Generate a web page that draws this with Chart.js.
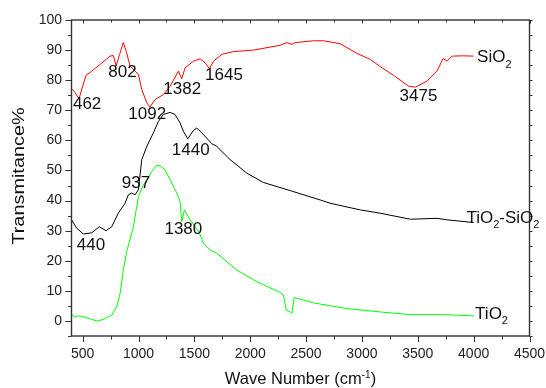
<!DOCTYPE html>
<html><head><meta charset="utf-8">
<script src="https://cdn.jsdelivr.net/npm/chart.js@4/dist/chart.umd.min.js"></script>
<style>html,body{margin:0;padding:0;background:#fff}#wrap{width:546px;height:388px}</style>
</head><body><div id="wrap"><canvas id="c" width="546" height="388"></canvas></div>
<script>
// ---- data ----
const sio2Wn = [400,430,467,500,530,581,655,745,775,799,830,864,894,924,969,999,1029,1074,1103,1148,1223,1283,1357,1387,1417,1491,1551,1596,1635,1671,1746,1850,2029,2268,2328,2373,2403,2567,2656,2806,2896,2955,3075,3164,3284,3418,3478,3583,3672,3726,3762,3807,3900,4000];
const sio2T  = [77.2,76,73.8,78,81.6,83,85.2,88,88.2,84.7,88.5,92.5,89.1,84.7,83,81.9,76.9,72.5,71.1,73.6,75.2,78,83,80.5,84.1,86.3,87.1,85.8,83.8,86.3,88.6,89.5,90,91.6,92.5,91.9,92.5,93.1,93.1,92.1,90.2,88.9,86.9,84.5,81.6,78,77.7,79.7,83,87.2,86.3,88,88.1,88];

const tisiWn = [400,447,506,581,649,709,760,819,879,909,939,969,999,1029,1074,1133,1178,1223,1283,1327,1372,1402,1441,1491,1522,1567,1656,1701,1820,1970,2119,2358,2627,2716,2985,3164,3433,3672,3762,4000];
const tisiT  = [33.6,30.8,28.9,29.3,31.3,30,31.3,35.8,39.1,41.9,42.5,41.9,43.6,53.6,58,62.5,66.3,68.6,69.3,68.6,65.8,63,60.5,63.3,64.1,62.5,58.9,58,53.6,49.1,46,43.3,40.2,39.1,36.9,35.8,33.8,34.1,33.6,32.7];

const tio2Wn = [400,431,461,536,626,685,760,805,835,864,894,954,999,1043,1074,1118,1163,1193,1238,1283,1327,1343,1372,1387,1411,1462,1507,1545,1581,1641,1701,1880,2060,2268,2298,2322,2358,2373,2394,2567,2866,3164,3433,3732,4000];
const tio2T  = [2.2,1.3,1.7,1.1,0,0.5,1.9,4.7,9.1,16.9,23,31.3,41.3,45.2,46.9,49.7,51.7,51.6,50.2,46.9,43.6,42.5,39.7,33,36.9,33.6,31.3,29.3,25.8,23.6,22.5,16.9,13,9.5,8.6,3.6,3,2.5,7.8,6,4.1,3,2.1,2.1,1.7];

const xTickValues = [500,1000,1500,2000,2500,3000,3500,4000,4500];
const yTickValues = [0,10,20,30,40,50,60,70,80,90,100];

// peak annotations: text, wavenumber, transmittance
const peakText = ['462','802','1092','1382','1645','3475','1440','937','440','1380'];
const peakWn   = [413,730,909,1222,1596,3337,1298,850,447,1232];
const peakT    = [71.9,82.5,68.6,77.1,81.6,74.7,56.7,45.6,25.2,30.5];

// series names (with subscript parts) anchored at data coordinates
const seriesNames = [
  {parts:[['SiO',0],['2',1]], wn:4031, t:88},
  {parts:[['TiO',0],['2',1],['-SiO',0],['2',1]], wn:3935, t:34.7},
  {parts:[['TiO',0],['2',1]], wn:4013, t:2.7}
];

const FONT = '"Liberation Sans", Arial, sans-serif';
const toPts = (xs, ys) => xs.map((x, i) => ({x, y: ys[i]}));

function drawRich(ctx, parts, x, y, size) {
  let cx = x;
  for (const [t, sub] of parts) {
    ctx.font = (sub ? Math.round(size * 0.65) : size) + 'px ' + FONT;
    ctx.fillText(t, cx, y + (sub ? size * 0.32 : 0));
    cx += ctx.measureText(t).width;
  }
}

function zeroPad(s) { s.paddingLeft = 0; s.paddingRight = 0; s.paddingTop = 0; s.paddingBottom = 0; }

const framePlugin = {
  id: 'frame',
  afterDraw(chart) {
    const {ctx, chartArea: a, scales: {x, y}} = chart;
    ctx.save();
    ctx.strokeStyle = '#333';
    ctx.lineWidth = 1.4;
    ctx.strokeRect(a.left, a.top, a.right - a.left, a.bottom - a.top);
    ctx.lineWidth = 1;
    ctx.beginPath();
    for (let v = 500; v <= 4500; v += 250) {
      const px = Math.round(x.getPixelForValue(v)) + 0.5;
      const major = v % 500 === 0;
      ctx.moveTo(px, a.bottom); ctx.lineTo(px, a.bottom + (major ? 6 : 3.5));
      ctx.moveTo(px, a.top); ctx.lineTo(px, a.top + (major ? 3.5 : 2.5));
    }
    for (let v = -5; v <= 100; v += 5) {
      const py = Math.round(y.getPixelForValue(v)) + 0.5;
      const major = v % 10 === 0;
      ctx.moveTo(a.left, py); ctx.lineTo(a.left - (major ? 6 : 3.5), py);
      ctx.moveTo(a.right, py); ctx.lineTo(a.right + 3, py);
    }
    ctx.stroke();

    // peak labels
    ctx.fillStyle = '#111';
    ctx.textAlign = 'left';
    ctx.textBaseline = 'middle';
    ctx.font = '17px ' + FONT;
    peakText.forEach((t, i) => {
      ctx.fillText(t, x.getPixelForValue(peakWn[i]), y.getPixelForValue(peakT[i]));
    });
    // series labels
    ctx.textBaseline = 'alphabetic';
    seriesNames.forEach(s => {
      drawRich(ctx, s.parts, x.getPixelForValue(s.wn), y.getPixelForValue(s.t) + 6, 17);
    });

    // x axis title with superscript
    const cxm = (a.left + a.right) / 2;
    const base = 384;
    const p1 = 'Wave Number (cm', sup = '-1', p2 = ')';
    ctx.font = '16.5px ' + FONT; const w1 = ctx.measureText(p1).width, w3 = ctx.measureText(p2).width;
    ctx.font = '10px ' + FONT; const w2 = ctx.measureText(sup).width;
    let sx = cxm - (w1 + w2 + w3) / 2;
    ctx.font = '16.5px ' + FONT; ctx.fillText(p1, sx, base); sx += w1;
    ctx.font = '10px ' + FONT; ctx.fillText(sup, sx, base - 6.5); sx += w2;
    ctx.font = '16.5px ' + FONT; ctx.fillText(p2, sx, base);

    // y axis title
    ctx.translate(23.5, (a.top + a.bottom) / 2 - 2);
    ctx.rotate(-Math.PI / 2);
    ctx.scale(1.17, 1);
    ctx.textAlign = 'center';
    ctx.font = '17px ' + FONT;
    ctx.fillText('Transmitance%', 0, 0);
    ctx.restore();
  }
};

new Chart(document.getElementById('c'), {
  type: 'line',
  data: {
    datasets: [
      {label: 'SiO2', data: toPts(sio2Wn, sio2T), borderColor: '#ff0000', borderWidth: 1, pointRadius: 0, tension: 0},
      {label: 'TiO2-SiO2', data: toPts(tisiWn, tisiT), borderColor: '#000000', borderWidth: 1, pointRadius: 0, tension: 0},
      {label: 'TiO2', data: toPts(tio2Wn, tio2T), borderColor: '#00ff00', borderWidth: 1, pointRadius: 0, tension: 0}
    ]
  },
  options: {
    responsive: false,
    animation: false,
    devicePixelRatio: 1,
    layout: {padding: {left: 0, right: 16.5, top: 20, bottom: 0}},
    plugins: {legend: {display: false}, tooltip: {enabled: false}},
    scales: {
      x: {
        type: 'linear', min: 400, max: 4500,
        afterBuildTicks: s => { s.ticks = xTickValues.map(v => ({value: v})); },
        afterFit: s => { s.height = 52; zeroPad(s); },
        grid: {display: false, drawTicks: false},
        border: {display: false},
        ticks: {font: {family: FONT, size: 14}, color: '#222', padding: 10, maxRotation: 0, autoSkip: false,
                callback: v => String(v)}
      },
      y: {
        type: 'linear', min: -5, max: 100,
        afterBuildTicks: s => { s.ticks = yTickValues.map(v => ({value: v})); },
        afterFit: s => { s.width = 71.5; zeroPad(s); },
        grid: {display: false, drawTicks: false},
        border: {display: false},
        ticks: {font: {family: FONT, size: 14}, color: '#222', padding: 9.5, autoSkip: false,
                callback: v => String(v)}
      }
    }
  },
  plugins: [framePlugin]
});
</script>
</body></html>
